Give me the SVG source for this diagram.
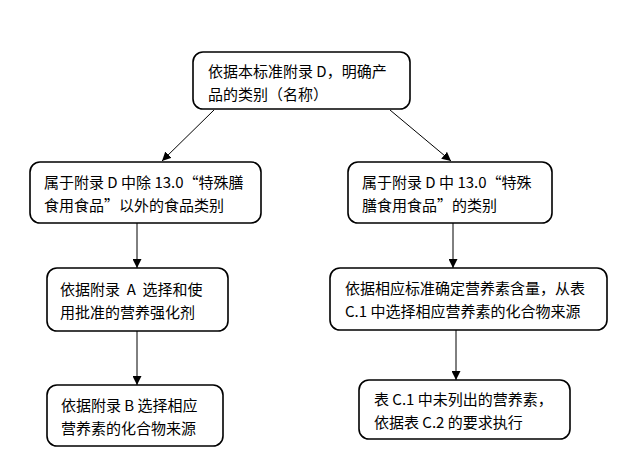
<svg xmlns="http://www.w3.org/2000/svg" width="628" height="460" viewBox="0 0 628 460">
<style>
.box{fill:#fff;stroke:#000;stroke-width:1.6}
.t{font-family:"Noto Sans CJK SC","Liberation Sans",sans-serif;font-size:15px;fill:#000;white-space:pre}
.c{stroke:#000;stroke-width:1;fill:none;marker-end:url(#ah)}
</style>
<defs>
<marker id="ah" viewBox="0 0 10 10" refX="10" refY="5" markerWidth="9" markerHeight="9" markerUnits="userSpaceOnUse" orient="auto">
<path d="M0,0 L10,5 L0,10 z" fill="#000"/>
</marker>
</defs>
<rect width="628" height="460" fill="#fff"/>
<g id="connectors">
<line class="c" x1="214" y1="110" x2="162" y2="161"/>
<line class="c" x1="390" y1="110" x2="451" y2="161"/>
<line class="c" x1="137" y1="223" x2="137" y2="268"/>
<line class="c" x1="137" y1="331" x2="137" y2="385"/>
<line class="c" x1="453" y1="223" x2="453" y2="268"/>
<line class="c" x1="456" y1="330" x2="456" y2="380"/>
</g>
<g id="n1">
<rect class="box" x="193" y="52" width="217" height="57" rx="10"/>
<text class="t" x="208" y="77">依据本标准附录 D，明确产<tspan x="208" y="100">品的类别（名称）</tspan></text>
</g>
<g id="n2">
<rect class="box" x="30" y="162" width="231" height="61" rx="10"/>
<text class="t" x="44" y="188">属于附录 D 中除 13.0“特殊膳<tspan x="44" y="211">食用食品”以外的食品类别</tspan></text>
</g>
<g id="n3">
<rect class="box" x="348" y="162" width="204" height="61" rx="10"/>
<text class="t" x="362" y="188">属于附录 D 中 13.0“特殊<tspan x="362" y="211">膳食用食品”的类别</tspan></text>
</g>
<g id="n4">
<rect class="box" x="47" y="268" width="181" height="63" rx="10"/>
<text class="t" x="60" y="295" xml:space="preserve">依据附录  A  选择和使<tspan x="60" y="318">用批准的营养强化剂</tspan></text>
</g>
<g id="n5">
<rect class="box" x="330" y="268" width="277" height="62" rx="10"/>
<text class="t" x="345" y="294">依据相应标准确定营养素含量，从表<tspan x="345" y="317">C.1 中选择相应营养素的化合物来源</tspan></text>
</g>
<g id="n6">
<rect class="box" x="47" y="385" width="176" height="61" rx="10"/>
<text class="t" x="61" y="411">依据附录 B 选择相应<tspan x="61" y="434">营养素的化合物来源</tspan></text>
</g>
<g id="n7">
<rect class="box" x="359" y="380" width="211" height="59" rx="10"/>
<text class="t" x="374" y="405">表 C.1 中未列出的营养素，<tspan x="374" y="428">依据表 C.2 的要求执行</tspan></text>
</g>
</svg>
